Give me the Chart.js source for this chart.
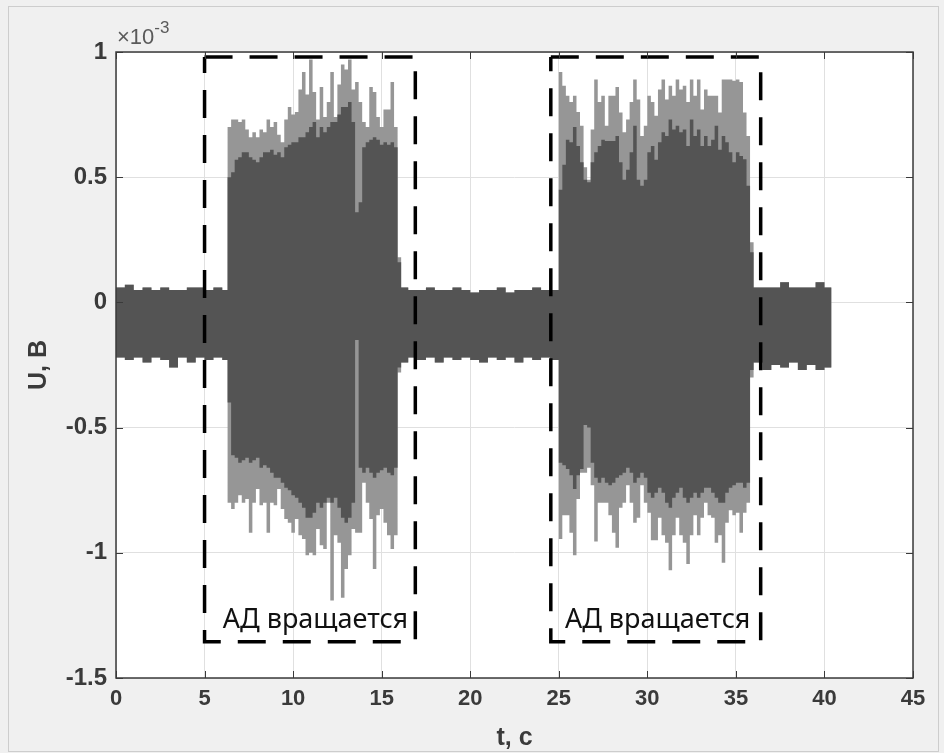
<!DOCTYPE html>
<html>
<head>
<meta charset="utf-8">
<script src="https://cdn.jsdelivr.net/npm/chart.js@4.4.1/dist/chart.umd.min.js"></script>
<style>
  html, body { margin: 0; padding: 0; background: #f0f0f0; }
  #wrap { width: 944px; height: 753px; }
</style>
</head>
<body>
<div id="wrap"><canvas id="chart" width="944" height="753"></canvas></div>
<script>
// signal envelope (U in units of 1e-3 V)
// each sample holds its value until the next time
var baseA_t  = [0, 0.5, 1.0, 1.5, 2.0, 2.5, 3.0, 3.5, 4.0, 4.5, 5.0, 5.5, 6.0];
var baseA_hi = [0.06, 0.07, 0.05, 0.06, 0.05, 0.06, 0.05, 0.05, 0.06, 0.06, 0.05, 0.06, 0.05];
var baseA_lo = [-0.22, -0.23, -0.22, -0.24, -0.22, -0.23, -0.26, -0.22, -0.24, -0.22, -0.23, -0.22, -0.23];

var run1_t = [6.3, 6.5, 6.7, 6.9, 7.1, 7.3, 7.5, 7.7, 7.9, 8.1,
              8.3, 8.5, 8.7, 8.9, 9.1, 9.3, 9.5, 9.7, 9.9, 10.1,
              10.3, 10.5, 10.7, 10.9, 11.1, 11.3, 11.5, 11.7, 11.9, 12.1,
              12.3, 12.5, 12.7, 12.9, 13.1, 13.3, 13.5, 13.7, 13.9, 14.1,
              14.3, 14.5, 14.7, 14.9, 15.1, 15.3, 15.5, 15.7, 15.9];
var run1_peakHi = [0.70, 0.73, 0.73, 0.72, 0.73, 0.69, 0.66, 0.68, 0.66, 0.69,
                   0.68, 0.73, 0.70, 0.72, 0.67, 0.64, 0.73, 0.78, 0.75, 0.76,
                   0.85, 0.92, 0.83, 0.97, 0.84, 0.73, 0.86, 0.74, 0.80, 0.92,
                   0.74, 0.87, 0.95, 0.93, 0.97, 0.85, 0.88, 0.80, 0.72, 0.70,
                   0.86, 0.84, 0.74, 0.70, 0.77, 0.77, 0.88, 0.70, 0.18];
var run1_coreHi = [0.50, 0.52, 0.57, 0.58, 0.60, 0.60, 0.58, 0.57, 0.56, 0.58,
                   0.60, 0.60, 0.61, 0.59, 0.60, 0.58, 0.62, 0.63, 0.64, 0.64,
                   0.66, 0.66, 0.68, 0.70, 0.72, 0.66, 0.70, 0.68, 0.70, 0.72,
                   0.72, 0.75, 0.78, 0.78, 0.80, 0.72, 0.36, 0.40, 0.62, 0.64,
                   0.65, 0.66, 0.65, 0.63, 0.64, 0.63, 0.64, 0.62, 0.16];
var run1_coreLo = [-0.40, -0.61, -0.62, -0.64, -0.63, -0.62, -0.64, -0.63, -0.62, -0.66,
                   -0.65, -0.66, -0.68, -0.70, -0.70, -0.72, -0.74, -0.75, -0.77, -0.78,
                   -0.80, -0.82, -0.86, -0.86, -0.84, -0.80, -0.82, -0.80, -0.78, -0.80,
                   -0.78, -0.82, -0.86, -0.88, -0.86, -0.80, -0.15, -0.66, -0.68, -0.66,
                   -0.68, -0.70, -0.68, -0.67, -0.66, -0.68, -0.69, -0.66, -0.26];
var run1_peakLo = [-0.80, -0.825, -0.80, -0.77, -0.80, -0.785, -0.92, -0.80, -0.745, -0.81,
                   -0.80, -0.92, -0.80, -0.81, -0.745, -0.825, -0.865, -0.88, -0.92, -0.865,
                   -0.93, -0.945, -1.01, -1.00, -1.01, -0.905, -0.97, -0.985, -0.80, -1.19,
                   -0.93, -0.96, -1.18, -1.065, -1.01, -0.905, -0.92, -0.92, -0.72, -0.80,
                   -0.865, -1.065, -0.85, -0.825, -0.88, -0.93, -0.985, -0.93, -0.28];

var baseB_t  = [16.1, 16.5, 17.0, 17.5, 18.0, 18.5, 19.0, 19.5, 20.0, 20.5, 21.0, 21.5, 22.0, 22.5, 23.0, 23.5, 24.0, 24.5];
var baseB_hi = [0.06, 0.05, 0.05, 0.06, 0.05, 0.05, 0.06, 0.05, 0.04, 0.05, 0.05, 0.06, 0.04, 0.05, 0.05, 0.06, 0.05, 0.05];
var baseB_lo = [-0.24, -0.22, -0.23, -0.22, -0.24, -0.22, -0.23, -0.22, -0.23, -0.24, -0.22, -0.23, -0.22, -0.24, -0.22, -0.23, -0.22, -0.23];

var run2_t = [25.0, 25.2, 25.4, 25.6, 25.8, 26.0, 26.2, 26.4, 26.6, 26.8,
              27.0, 27.2, 27.4, 27.6, 27.8, 28.0, 28.2, 28.4, 28.6, 28.8,
              29.0, 29.2, 29.4, 29.6, 29.8, 30.0, 30.2, 30.4, 30.6, 30.8,
              31.0, 31.2, 31.4, 31.6, 31.8, 32.0, 32.2, 32.4, 32.6, 32.8,
              33.0, 33.2, 33.4, 33.6, 33.8, 34.0, 34.2, 34.4, 34.6, 34.8,
              35.0, 35.2, 35.4, 35.6, 35.8];
var run2_peakHi = [0.92, 0.865, 0.825, 0.80, 0.825, 0.76, 0.705, 0.54, 0.49, 0.69,
                   0.89, 0.80, 0.825, 0.705, 0.825, 0.825, 0.86, 0.758, 0.68, 0.73,
                   0.80, 0.89, 0.81, 0.665, 0.705, 0.825, 0.80, 0.745, 0.85, 0.89,
                   0.81, 0.865, 0.825, 0.89, 0.85, 0.865, 0.80, 0.89, 0.825, 0.89,
                   0.77, 0.85, 0.825, 0.825, 0.825, 0.758, 0.89, 0.89, 0.89, 0.885,
                   0.89, 0.88, 0.758, 0.665, 0.24];
var run2_coreHi = [0.45, 0.55, 0.65, 0.64, 0.70, 0.625, 0.56, 0.49, 0.48, 0.56,
                   0.60, 0.625, 0.65, 0.645, 0.645, 0.645, 0.665, 0.56, 0.49, 0.53,
                   0.60, 0.705, 0.49, 0.466, 0.49, 0.60, 0.625, 0.57, 0.64, 0.68,
                   0.665, 0.73, 0.69, 0.705, 0.68, 0.69, 0.625, 0.73, 0.665, 0.69,
                   0.625, 0.665, 0.625, 0.65, 0.705, 0.61, 0.665, 0.64, 0.60, 0.56,
                   0.60, 0.585, 0.572, 0.466, 0.20];
var run2_coreLo = [-0.64, -0.65, -0.665, -0.69, -0.745, -0.69, -0.665, -0.49, -0.50, -0.64,
                   -0.70, -0.72, -0.70, -0.72, -0.73, -0.72, -0.70, -0.69, -0.68, -0.66,
                   -0.68, -0.72, -0.70, -0.68, -0.70, -0.76, -0.78, -0.76, -0.74, -0.76,
                   -0.80, -0.82, -0.78, -0.76, -0.74, -0.78, -0.80, -0.78, -0.76, -0.78,
                   -0.76, -0.74, -0.74, -0.76, -0.78, -0.80, -0.80, -0.76, -0.74, -0.73,
                   -0.72, -0.72, -0.74, -0.72, -0.27];
var run2_peakLo = [-0.945, -0.85, -0.85, -0.92, -1.01, -0.785, -0.68, -0.68, -0.66, -0.73,
                   -0.955, -0.80, -0.80, -0.80, -0.85, -0.92, -0.98, -0.82, -0.80, -0.73,
                   -0.80, -0.88, -0.86, -0.73, -0.80, -0.84, -0.95, -0.95, -0.86, -0.93,
                   -0.96, -1.07, -0.93, -0.86, -0.93, -0.96, -1.045, -0.93, -0.85, -0.93,
                   -0.86, -0.80, -0.85, -0.86, -0.96, -0.93, -1.04, -0.88, -0.83, -0.85,
                   -0.84, -0.92, -0.84, -0.80, -0.30];

var baseC_t  = [36.0, 36.5, 37.0, 37.5, 38.0, 38.5, 39.0, 39.5, 40.0, 40.4];
var baseC_hi = [0.06, 0.06, 0.06, 0.08, 0.06, 0.06, 0.06, 0.08, 0.06, 0.06];
var baseC_lo = [-0.24, -0.27, -0.25, -0.26, -0.24, -0.27, -0.25, -0.27, -0.26, -0.26];

// dashed frames "АД вращается"
var box1_t = [5.0, 16.9, 16.9, 5.0, 5.0];
var box2_t = [24.55, 36.4, 36.4, 24.55, 24.55];
var box_u  = [0.98, 0.98, -1.355, -1.355, 0.98];
var labelText = 'АД вращается';
var label_t = [11.26, 30.58];
var label_u = [-1.30, -1.30];

var xTicks = { min: 0, max: 45, step: 5 };
var yTicks = { min: -1.5, max: 1, step: 0.5 };

// the quiet stretches have no separate light spikes, so both layers share them
var times  = [].concat(baseA_t, run1_t, baseB_t, run2_t, baseC_t);
var peakHi = [].concat(baseA_hi, run1_peakHi, baseB_hi, run2_peakHi, baseC_hi);
var coreHi = [].concat(baseA_hi, run1_coreHi, baseB_hi, run2_coreHi, baseC_hi);
var coreLo = [].concat(baseA_lo, run1_coreLo, baseB_lo, run2_coreLo, baseC_lo);
var peakLo = [].concat(baseA_lo, run1_peakLo, baseB_lo, run2_peakLo, baseC_lo);

function pts(xs, ys) {
    return xs.map(function(x, i) { return { x: x, y: ys[i] }; });
}

function envelope(values, colour, fillTo, order) {
    return {
        data: pts(times, values),
        stepped: true,
        borderWidth: 0,
        borderColor: 'rgba(0,0,0,0)',
        backgroundColor: colour,
        pointRadius: 0,
        fill: fillTo,
        order: order
    };
}

function dashedBox(xs) {
    return {
        data: pts(xs, box_u),
        borderColor: '#000',
        borderWidth: 3.5,
        borderDash: [28, 17],
        pointRadius: 0,
        fill: false,
        order: 0
    };
}

var axisFont = '"Liberation Sans", Arial, sans-serif';
var textColor = '#3a3a3a';

var matlabAxes = {
    id: 'matlabAxes',
    beforeDraw: function(chart) {
        var ctx = chart.ctx, a = chart.chartArea;
        ctx.save();
        ctx.fillStyle = '#f0f0f0';
        ctx.fillRect(0, 0, chart.width, chart.height);
        ctx.strokeStyle = '#cdcdcd';
        ctx.lineWidth = 1;
        ctx.strokeRect(8.5, 6.5, chart.width - 14, chart.height - 8);
        ctx.fillStyle = '#ffffff';
        ctx.fillRect(a.left, a.top, a.right - a.left, a.bottom - a.top);
        ctx.restore();
    },
    afterDatasetsDraw: function(chart) {
        var ctx = chart.ctx, a = chart.chartArea;
        var xs = chart.scales.x, ys = chart.scales.y;
        ctx.save();
        // box labels
        ctx.font = '27px "Noto Sans", "Open Sans", sans-serif';
        ctx.fillStyle = '#111111';
        ctx.textAlign = 'center';
        ctx.textBaseline = 'alphabetic';
        for (var i = 0; i < label_t.length; i++) {
            ctx.fillText(labelText, xs.getPixelForValue(label_t[i]), ys.getPixelForValue(label_u[i]));
        }
        // axes box
        ctx.strokeStyle = '#3a3a3a';
        ctx.lineWidth = 1.5;
        ctx.strokeRect(a.left, a.top, a.right - a.left, a.bottom - a.top);
        // inward ticks
        ctx.lineWidth = 1;
        ctx.beginPath();
        xs.ticks.forEach(function(t) {
            var px = Math.round(xs.getPixelForValue(t.value)) + 0.5;
            ctx.moveTo(px, a.bottom); ctx.lineTo(px, a.bottom - 7);
            ctx.moveTo(px, a.top); ctx.lineTo(px, a.top + 7);
        });
        ys.ticks.forEach(function(t) {
            var py = Math.round(ys.getPixelForValue(t.value)) + 0.5;
            ctx.moveTo(a.left, py); ctx.lineTo(a.left + 7, py);
            ctx.moveTo(a.right, py); ctx.lineTo(a.right - 7, py);
        });
        ctx.stroke();
        // exponent
        ctx.fillStyle = '#5a5a5a';
        ctx.textAlign = 'left';
        ctx.font = '22px ' + axisFont;
        ctx.fillText('\u00d710', a.left + 1, a.top - 8);
        var w = ctx.measureText('\u00d710').width;
        ctx.font = '17px ' + axisFont;
        ctx.fillText('-3', a.left + 1 + w, a.top - 19);
        ctx.restore();
    }
};

var chart = new Chart(document.getElementById('chart').getContext('2d'), {
    type: 'line',
    data: {
        datasets: [
            dashedBox(box1_t),
            dashedBox(box2_t),
            envelope(coreHi, '#545454', '+1', 1),
            envelope(coreLo, '#545454', false, 1),
            envelope(peakHi, '#969696', '+1', 2),
            envelope(peakLo, '#969696', false, 2)
        ]
    },
    options: {
        responsive: false,
        animation: false,
        layout: { padding: { top: 52, right: 31, left: 0, bottom: 0 } },
        plugins: { legend: { display: false }, tooltip: { enabled: false } },
        scales: {
            x: {
                type: 'linear',
                min: xTicks.min,
                max: xTicks.max,
                ticks: { stepSize: xTicks.step, color: textColor, font: { family: axisFont, size: 22, weight: 'bold' }, padding: 8, maxRotation: 0 },
                grid: { color: '#e0e0e0', drawTicks: false },
                border: { display: false },
                title: { display: true, text: 't, c', color: textColor, font: { family: axisFont, size: 25, weight: 'bold' }, padding: { top: 0, bottom: 0 } },
                afterFit: function(s) { s.height = 75; }
            },
            y: {
                type: 'linear',
                min: yTicks.min,
                max: yTicks.max,
                ticks: {
                    stepSize: yTicks.step, color: textColor, font: { family: axisFont, size: 24, weight: 'bold' }, padding: 9,
                    callback: function(v) { return String(v); }
                },
                grid: { color: '#e0e0e0', drawTicks: false },
                border: { display: false },
                title: { display: true, text: 'U, B', color: textColor, font: { family: axisFont, size: 25, weight: 'bold' }, padding: { top: 24, bottom: 0 } },
                afterFit: function(s) { s.width = 116; }
            }
        }
    },
    plugins: [matlabAxes]
});
</script>
</body>
</html>
